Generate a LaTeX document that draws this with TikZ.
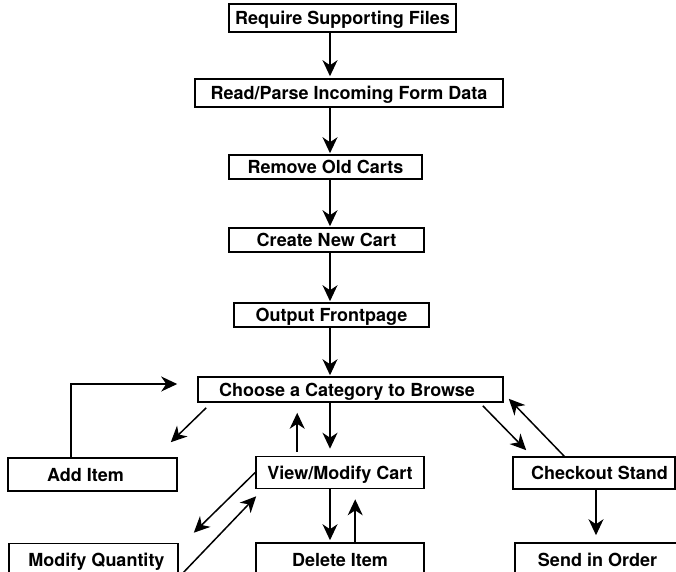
\documentclass[tikz,border=0pt]{standalone}
\usepackage{fontspec}
\setmainfont{TeX Gyre Heros}
\usetikzlibrary{arrows.meta,calc}
\begin{document}
\begin{tikzpicture}[x=1pt,y=-1pt,
  box/.style={draw, line width=1.6pt, inner sep=0pt, anchor=center,
    font=\bfseries\fontsize{18}{21}\selectfont, text height=13pt, text depth=0pt},
  arr/.style={line width=1.5pt, -{Stealth[length=16pt,width=15pt,inset=5pt]}}]
\useasboundingbox (0,0) rectangle (676,571);
\clip (0,0) rectangle (676,571);
\coordinate (cx) at (330,0);
% nodes
\node[box, minimum width=227pt, minimum height=28pt] (req) at (342.5,18) {Require Supporting Files};
\node[box, minimum width=308pt, minimum height=28pt] (read) at (349,93) {Read/Parse Incoming Form Data};
\node[box, minimum width=193pt, minimum height=24pt] (remove) at (325.5,167) {Remove Old Carts};
\node[box, minimum width=195pt, minimum height=24pt] (create) at (326.5,240) {Create New Cart};
\node[box, minimum width=195pt, minimum height=24pt] (output) at (331.5,315) {Output Frontpage};
\node[box, minimum width=305pt, minimum height=25pt] (choose) at (350.5,389.5) {\kern-7pt Choose a Category to Browse};
\node[box, minimum width=169pt, minimum height=33pt] (additem) at (92.5,474.5) {\kern-14pt Add Item};
\node[box, minimum width=168pt, minimum height=32pt] (view) at (340,472.5) {View/Modify Cart};
\node[box, minimum width=162pt, minimum height=32pt] (checkout) at (594,473) {Checkout Stand\kern-11pt};
\node[box, minimum width=169pt, minimum height=33pt] (modq) at (93.5,560) {Modify Quantity\kern-6pt};
\node[box, minimum width=168pt, minimum height=33pt] (delete) at (340,559.5) {Delete Item};
\node[box, minimum width=165pt, minimum height=33pt] (send) at (597.5,559.5) {Send in Order};
% vertical chain
\draw[arr] (req.south -| cx) -- ($(read.north -| cx)+(0,-2)$);
\draw[arr] (read.south -| cx) -- ($(remove.north -| cx)+(0,-1)$);
\draw[arr] (remove.south -| cx) -- ($(create.north -| cx)+(0,-1)$);
\draw[arr] (create.south -| cx) -- ($(output.north -| cx)+(0,-1)$);
\draw[arr] (output.south -| cx) -- ($(choose.north -| cx)+(0,-1)$);
% around choose
\draw[arr] ($(additem.north west)+(64,0)$) |- ($(choose.west)+(-20,-5.5)$);
\draw[arr] ($(choose.south west)+(9,5)$) -- ($(additem.north east)+(-7,-15)$);
\draw[arr] ($(view.north west)+(42,-4)$) -- ($(choose.south west)+(100,10)$);
\draw[arr] (choose.south -| cx) -- ($(view.north -| cx)+(0,-7)$);
\draw[arr] (view.west) -- ($(modq.north east)+(15,-10)$);
\draw[arr] (modq.south east) -- ($(view.south west)+(1,7)$);
\draw[arr] (view.south -| cx) -- ($(delete.north -| cx)+(0,-2)$);
\draw[arr] ($(delete.north west)+(100,0)$) -- ($(view.south west)+(100,10)$);
\draw[arr] ($(choose.south east)+(-21,3)$) -- ($(checkout.north west)+(14,-6)$);
\draw[arr] ($(checkout.north west)+(52,0)$) -- ($(choose.south east)+(5,-4)$);
\draw[arr] ($(checkout.south)+(2,0)$) -- ($(send.north)+(-1.5,-7)$);
\end{tikzpicture}
\end{document}
